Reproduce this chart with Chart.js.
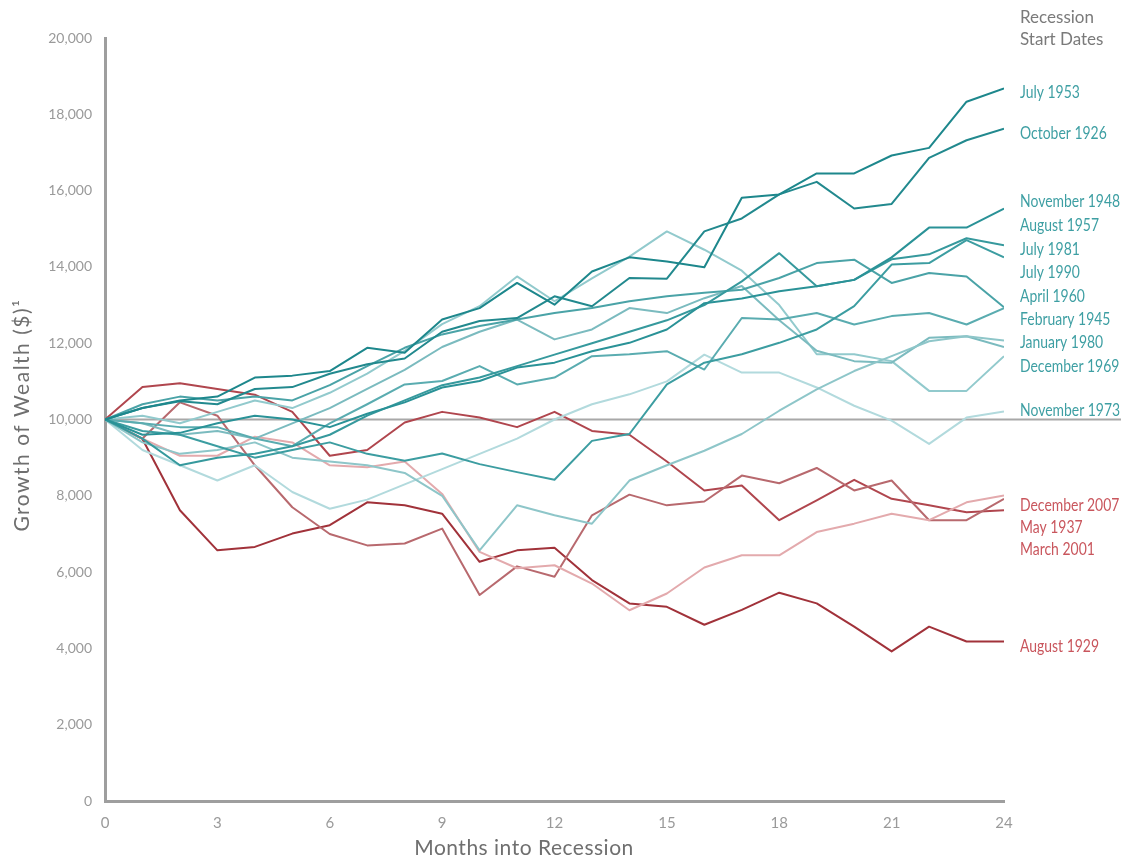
<!DOCTYPE html>
<html>
<head>
<meta charset="utf-8">
<script src="https://cdn.jsdelivr.net/npm/chart.js@4"></script>
<style>
    html, body { margin: 0; padding: 0; background: #ffffff; }
</style>
</head>
<body>
<canvas id="recessionGraph" width="1140" height="861"></canvas>
<script>
// months after the start of each recession
const months = [0, 1, 2, 3, 4, 5, 6, 7, 8, 9, 10, 11, 12, 13, 14, 15, 16, 17, 18, 19, 20, 21, 22, 23, 24];

// growth of $10,000
const july1953 = [10000, 10300, 10500, 10600, 11100, 11150, 11270, 11880, 11750, 12620, 12920, 13580, 13010, 13880, 14250, 14140, 13990, 15810, 15900, 16450, 16450, 16920, 17120, 18330, 18680];
const october1926 = [10000, 10300, 10480, 10400, 10800, 10850, 11200, 11450, 11600, 12300, 12580, 12660, 13230, 12970, 13710, 13690, 14930, 15270, 15900, 16230, 15530, 15650, 16860, 17320, 17620];
const november1948 = [10000, 9600, 9650, 9900, 10100, 10000, 9800, 10150, 10450, 10840, 11010, 11360, 11490, 11790, 12010, 12360, 13050, 13170, 13360, 13490, 13660, 14250, 15030, 15030, 15530];
const august1957 = [10000, 9500, 8800, 9000, 9100, 9300, 9600, 10100, 10500, 10900, 11100, 11400, 11700, 12000, 12300, 12600, 13000, 13620, 14360, 13490, 13660, 14200, 14330, 14750, 14570];
const july1981 = [10000, 9700, 9600, 9300, 9000, 9200, 9400, 9100, 8920, 9110, 8830, 8620, 8420, 9440, 9620, 10920, 11490, 11710, 12010, 12360, 12970, 14060, 14100, 14700, 14250];
const july1990 = [10000, 10400, 10600, 10500, 10600, 10500, 10900, 11400, 11880, 12230, 12450, 12620, 12790, 12920, 13100, 13230, 13320, 13400, 13710, 14100, 14190, 13580, 13840, 13750, 12940];
const april1960 = [10000, 9900, 9800, 9800, 9500, 9300, 9900, 10400, 10920, 11010, 11400, 10920, 11100, 11660, 11710, 11790, 11310, 12660, 12620, 12790, 12490, 12710, 12790, 12490, 12920];
const february1945 = [10000, 9400, 9100, 9200, 9400, 9000, 8900, 8800, 8600, 8000, 6570, 7750, 7490, 7270, 8400, 8800, 9180, 9620, 10230, 10790, 11270, 11660, 12050, 12180, 12070];
const january1980 = [10000, 9900, 9600, 9700, 9500, 9900, 10300, 10800, 11300, 11900, 12300, 12620, 12100, 12360, 12920, 12790, 13180, 13500, 12600, 11800, 11530, 11490, 12140, 12180, 11900];
const december1969 = [10000, 10100, 9900, 10200, 10500, 10300, 10700, 11200, 11800, 12500, 12970, 13750, 13100, 13700, 14270, 14930, 14450, 13900, 13000, 11710, 11710, 11530, 10750, 10750, 11660];
const november1973 = [10000, 9200, 8800, 8400, 8800, 8100, 7660, 7900, 8300, 8700, 9100, 9500, 10000, 10400, 10660, 11000, 11700, 11230, 11230, 10840, 10360, 9970, 9360, 10050, 10210];
const december2007 = [10000, 9500, 9050, 9050, 9550, 9400, 8800, 8750, 8900, 8050, 6530, 6100, 6180, 5700, 5000, 5440, 6120, 6440, 6440, 7050, 7270, 7530, 7360, 7830, 8010];
const may1937 = [10000, 9500, 10450, 10100, 8800, 7700, 7000, 6700, 6750, 7140, 5400, 6150, 5880, 7490, 8030, 7750, 7850, 8530, 8330, 8730, 8140, 8400, 7360, 7360, 7920];
const march2001 = [10000, 10850, 10950, 10800, 10650, 10200, 9050, 9200, 9920, 10200, 10050, 9800, 10200, 9700, 9600, 8900, 8140, 8270, 7360, 7880, 8420, 7920, 7750, 7570, 7620];
const august1929 = [10000, 9490, 7620, 6570, 6660, 7010, 7230, 7830, 7750, 7530, 6270, 6570, 6640, 5790, 5180, 5090, 4620, 5010, 5460, 5180, 4570, 3920, 4570, 4180, 4180];

const startValue = 10000;

const names = ["July 1953", "October 1926", "November 1948", "August 1957", "July 1981", "July 1990",
    "April 1960", "February 1945", "January 1980", "December 1969", "November 1973",
    "December 2007", "May 1937", "March 2001", "August 1929"];
const values = [july1953, october1926, november1948, august1957, july1981, july1990,
    april1960, february1945, january1980, december1969, november1973,
    december2007, may1937, march2001, august1929];
// where each name sits on the value axis, right of the plot
const labelAt = [18580, 17490, 15710, 15090, 14460, 13860, 13230, 12630, 12010, 11400, 10230, 7750, 7180, 6600, 4050];

const lineColors = ["#1d878c", "#22898e", "#2a9297", "#36999d", "#3c9da1", "#4aa3a7",
    "#5aacb0", "#8ec6c9", "#7bbbbf", "#92cacd", "#b2dadd",
    "#e3aaad", "#b8696e", "#b0464e", "#a1323a"];
const textColors = ["#3e9fa3", "#3e9fa3", "#3e9fa3", "#3e9fa3", "#3e9fa3", "#3e9fa3",
    "#3e9fa3", "#3e9fa3", "#3e9fa3", "#3e9fa3", "#3e9fa3",
    "#c9565d", "#c9565d", "#c9565d", "#c9565d"];

// baseline at the starting value, axis titles and the names of the recessions
const recessionLabels = {
    id: "recessionLabels",
    beforeDatasetsDraw(chart) {
        const { ctx, chartArea, scales } = chart;
        const y = scales.y.getPixelForValue(startValue);
        ctx.save();
        ctx.strokeStyle = "#a8a8a8";
        ctx.lineWidth = 2;
        ctx.beginPath();
        ctx.moveTo(chartArea.left, y);
        ctx.lineTo(chartArea.right + 117, y);
        ctx.stroke();
        ctx.restore();
    },
    afterDatasetsDraw(chart) {
        const { ctx, chartArea, scales } = chart;
        const x = chartArea.right + 16;
        ctx.save();
        ctx.textBaseline = "middle";
        ctx.textAlign = "left";
        ctx.font = "17px Lato, sans-serif";
        names.forEach((name, i) => {
            ctx.save();
            ctx.translate(x, scales.y.getPixelForValue(labelAt[i]));
            ctx.scale(0.82, 1);
            ctx.fillStyle = textColors[i];
            ctx.fillText(name, 0, 0);
            ctx.restore();
        });
        ctx.font = "17px Lato, sans-serif";
        ctx.fillStyle = "#7a7a7a";
        ctx.fillText("Recession", x, 18);
        ctx.fillText("Start Dates", x, 40);

        // axis titles
        ctx.fillStyle = "#6f6f6f";
        ctx.textAlign = "center";
        ctx.font = "21px Lato, sans-serif";
        ctx.letterSpacing = "0.5px";
        ctx.fillText("Months into Recession", 524, 848);
        ctx.save();
        ctx.translate(22, 415);
        ctx.rotate(-Math.PI / 2);
        ctx.letterSpacing = "1.5px";
        ctx.fillText("Growth of Wealth ($)\u00b9", 0, 0);
        ctx.restore();
        ctx.restore();
    }
};

const datasets = names.map((name, i) => ({
    label: name,
    data: values[i].map((v, j) => ({ x: months[j], y: v })),
    borderColor: lineColors[i],
    borderWidth: 2,
    pointRadius: 0,
    tension: 0,
    fill: false,
    borderJoinStyle: "round"
}));

Chart.defaults.font.family = "Lato, sans-serif";

new Chart("recessionGraph", {
    type: "line",
    data: { datasets: datasets },
    plugins: [recessionLabels],
    options: {
        responsive: false,
        animation: false,
        layout: { padding: { top: 38, right: 136, left: 0, bottom: 0 } },
        plugins: {
            legend: { display: false },
            tooltip: { enabled: false }
        },
        scales: {
            x: {
                type: "linear",
                min: 0,
                max: 24,
                grid: { display: false, drawTicks: false },
                border: { display: true, color: "#9e9e9e", width: 3 },
                ticks: {
                    stepSize: 3,
                    color: "#9a9a9a",
                    padding: 13,
                    font: { size: 15 }
                },
                afterFit(scale) { scale.height = 60; }
            },
            y: {
                min: 0,
                max: 20000,
                grid: { display: false, drawTicks: false },
                border: { display: true, color: "#9e9e9e", width: 3 },
                ticks: {
                    stepSize: 2000,
                    color: "#9a9a9a",
                    padding: 13,
                    font: { size: 14 },
                    callback: (value) => value.toLocaleString("en-US")
                },
                afterFit(scale) { scale.width = 105; }
            }
        }
    }
});
</script>
</body>
</html>
